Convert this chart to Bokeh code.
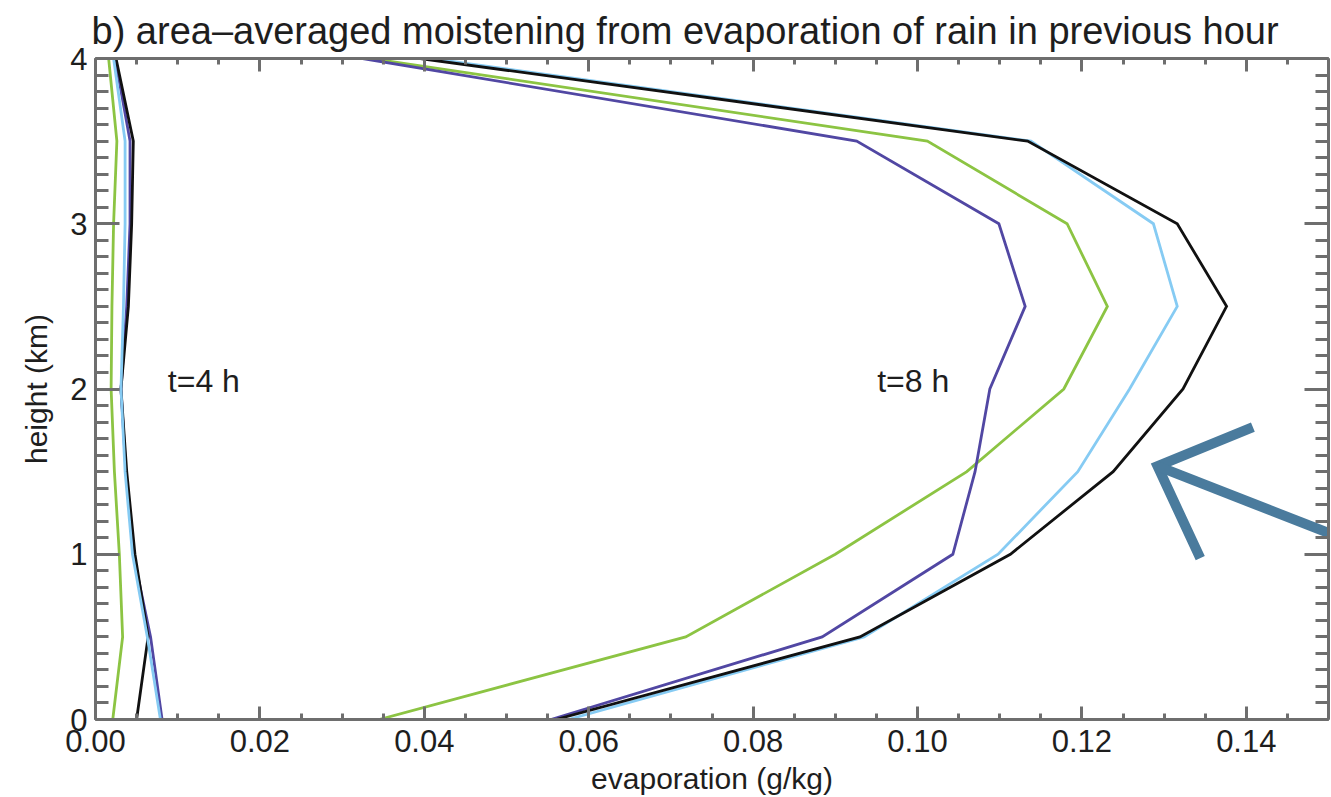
from bokeh.plotting import figure
from bokeh.models import Range1d, LinearAxis, FixedTicker, PrintfTickFormatter, Label
from bokeh.embed import file_html
from bokeh.resources import INLINE

# heights of the model levels (km)
height_km = [0.0, 0.5, 1.0, 1.5, 2.0, 2.5, 3.0, 3.5, 4.0]

# evaporative moistening (g/kg), t = 4 h
black_4h = [0.0050, 0.0064, 0.0048, 0.0038, 0.0031, 0.0040, 0.0044, 0.0046, 0.0025]
purple_4h = [0.0081, 0.0067, 0.0046, 0.0037, 0.0031, 0.0038, 0.0042, 0.0042, 0.0024]
skyblue_4h = [0.0079, 0.0063, 0.0045, 0.0036, 0.0031, 0.0034, 0.0036, 0.0036, 0.0022]
green_4h = [0.0021, 0.0033, 0.0029, 0.0023, 0.0019, 0.0020, 0.0022, 0.0026, 0.0016]

# evaporative moistening (g/kg), t = 8 h
black_8h = [0.0560, 0.0930, 0.1113, 0.1238, 0.1323, 0.1376, 0.1316, 0.1134, 0.0395]
skyblue_8h = [0.0575, 0.0935, 0.1098, 0.1195, 0.1258, 0.1316, 0.1287, 0.1138, 0.0408]
purple_8h = [0.0554, 0.0884, 0.1043, 0.1070, 0.1088, 0.1131, 0.1099, 0.0926, 0.0325]
green_8h = [0.0345, 0.0718, 0.0900, 0.1060, 0.1178, 0.1231, 0.1182, 0.1012, 0.0335]

x_major = [0.00, 0.02, 0.04, 0.06, 0.08, 0.10, 0.12, 0.14]
x_minor = [round(i * 0.005, 3) for i in range(31)]
y_major = [0, 1, 2, 3, 4]
y_minor = [round(i * 0.1, 1) for i in range(41)]

# pointer arrow (tip, upper barb, lower barb, tail) in data units
arrow_tip = (0.1292, 1.533)
arrow_barb_up = (0.1408, 1.770)
arrow_barb_down = (0.1344, 0.976)
arrow_tail = (0.1530, 1.070)

FONT = "Liberation Sans"
AXIS_GRAY = "#6e6e6e"
TEXT = "#1e1e1e"

COL_BLACK = "#111111"
COL_SKY = "#86CBF3"
COL_PURPLE = "#5147A3"
COL_GREEN = "#8CC443"
COL_ARROW = "#4A7B9D"

p = figure(
    width=1331, height=797,
    x_range=Range1d(0, 0.15), y_range=Range1d(0, 4),
    output_backend="svg", toolbar_location=None,
    min_border_left=95, min_border_right=3,
    min_border_top=58, min_border_bottom=78,
)
p.background_fill_color = "white"
p.border_fill_color = "white"
p.outline_line_color = None
p.xgrid.visible = False
p.ygrid.visible = False

p.title.text = "b) area\u2013averaged moistening from evaporation of rain in previous hour"
p.title.text_font = FONT
p.title.text_font_size = "38px"
p.title.text_font_style = "normal"
p.title.text_color = TEXT
p.title.align = "left"
p.title.offset = -4
p.title.standoff = 13

xt = FixedTicker(ticks=x_major, minor_ticks=x_minor)
yt = FixedTicker(ticks=y_major, minor_ticks=y_minor)


def style_axis(ax, major_in, minor_in):
    ax.axis_line_color = AXIS_GRAY
    ax.axis_line_width = 3
    ax.major_tick_line_color = AXIS_GRAY
    ax.minor_tick_line_color = AXIS_GRAY
    ax.major_tick_line_width = 3
    ax.minor_tick_line_width = 3
    ax.major_tick_in = major_in
    ax.major_tick_out = 0
    ax.minor_tick_in = minor_in
    ax.minor_tick_out = 0
    ax.major_label_text_font = FONT
    ax.major_label_text_font_size = "31px"
    ax.major_label_text_color = TEXT
    ax.axis_label_text_font = FONT
    ax.axis_label_text_font_size = "30px"
    ax.axis_label_text_font_style = "normal"
    ax.axis_label_text_color = TEXT


xb = p.xaxis[0]
xb.ticker = xt
xb.formatter = PrintfTickFormatter(format="%.2f")
style_axis(xb, 13, 6)
xb.major_label_standoff = 10
xb.axis_label = "evaporation (g/kg)"
xb.axis_label_standoff = 7

yl = p.yaxis[0]
yl.ticker = yt
yl.formatter = PrintfTickFormatter(format="%d")
style_axis(yl, 24, 13)
yl.major_label_standoff = 8
yl.major_label_orientation = "horizontal"
yl.axis_label = "height (km)"
yl.axis_label_standoff = 14

# mirrored tick-only axes on the top and right edges
xtop = LinearAxis(ticker=xt)
style_axis(xtop, 13, 6)
xtop.major_label_text_font_size = "0px"
xtop.major_label_text_color = None
xtop.major_label_standoff = 0
p.add_layout(xtop, "above")

yright = LinearAxis(ticker=yt)
style_axis(yright, 24, 13)
yright.major_label_text_font_size = "0px"
yright.major_label_text_color = None
yright.major_label_standoff = 0
p.add_layout(yright, "right")

LW = 2.8
series = [
    (green_4h, COL_GREEN), (purple_4h, COL_PURPLE), (black_4h, COL_BLACK), (skyblue_4h, COL_SKY),
    (green_8h, COL_GREEN), (purple_8h, COL_PURPLE), (skyblue_8h, COL_SKY), (black_8h, COL_BLACK),
]
for xs, col in series:
    p.line(xs, height_km, line_color=col, line_width=LW, line_join="miter")

# the pointer arrow
p.multi_line(
    xs=[[arrow_barb_up[0], arrow_tip[0], arrow_barb_down[0]], [arrow_tip[0], arrow_tail[0]]],
    ys=[[arrow_barb_up[1], arrow_tip[1], arrow_barb_down[1]], [arrow_tip[1], arrow_tail[1]]],
    line_color=COL_ARROW, line_width=10, line_join="miter", line_cap="butt",
)

for txt, xpos in (("t=4 h", 0.0088), ("t=8 h", 0.0951)):
    p.add_layout(Label(
        x=xpos, y=2.05, text=txt, text_font=FONT, text_font_size="32px",
        text_color=TEXT, text_align="left", text_baseline="middle",
    ))

open("out.html", "w").write(file_html(p, INLINE))
